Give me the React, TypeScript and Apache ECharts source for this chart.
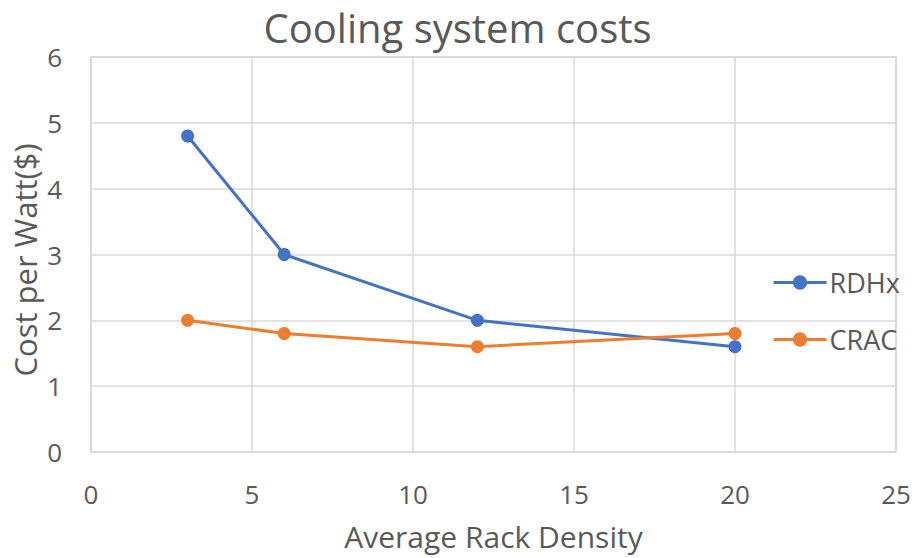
import React, { useEffect, useRef } from "react";
import * as echarts from "echarts";

const title = "Cooling system costs";
const xName = "Average Rack Density";
const yName = "Cost per Watt($)";
const rdhxName = "RDHx";
const cracName = "CRAC";
const rackDensity = [3, 6, 12, 20];
const rdhxCost = [4.8, 3.0, 2.0, 1.6];
const cracCost = [2.0, 1.8, 1.6, 1.8];

const FONT = "'Open Sans', sans-serif";
const TEXT = "#595959";
const GRID = "#D9D9D9";

export default function App() {
  const ref = useRef<HTMLDivElement>(null);
  useEffect(() => {
    if (!ref.current) return;
    document.body.style.margin = "0";
    const chart = echarts.init(ref.current, undefined, { renderer: "svg" });
    const pair = (ys: number[]) => rackDensity.map((x, i) => [x, ys[i]]);
    chart.setOption({
      animation: false,
      backgroundColor: "#ffffff",
      textStyle: { fontFamily: FONT, color: TEXT },
      title: {
        text: title,
        left: "center",
        top: 3,
        padding: 0,
        textStyle: { fontFamily: FONT, fontSize: 40, lineHeight: 48, fontWeight: "normal", color: TEXT },
      },
      grid: {
        left: 91,
        top: 57,
        width: 805,
        height: 395,
        outerBoundsMode: "none",
        containLabel: false,
        show: true,
        borderColor: GRID,
        borderWidth: 1.5,
      },
      legend: {
        orient: "vertical",
        left: 772,
        top: 269,
        padding: 0,
        itemWidth: 53,
        itemHeight: 18,
        itemGap: 30,
        lineStyle: { width: 3 },
        textStyle: { fontFamily: FONT, fontSize: 27, color: TEXT, padding: [0, 0, 0, -2] },
        data: [rdhxName, cracName],
      },
      xAxis: {
        type: "value",
        min: 0,
        max: 25,
        interval: 5,
        name: xName,
        nameLocation: "middle",
        nameGap: 69,
        nameTextStyle: { fontFamily: FONT, fontSize: 30, color: TEXT },
        axisLine: { show: true, lineStyle: { color: GRID, width: 1.5 } },
        axisTick: { show: false },
        splitLine: { show: true, lineStyle: { color: GRID, width: 1.5 } },
        axisLabel: { margin: 29, fontFamily: FONT, fontSize: 26, color: TEXT },
      },
      yAxis: {
        type: "value",
        min: 0,
        max: 6,
        interval: 1,
        axisLine: { show: true, lineStyle: { color: GRID, width: 1.5 } },
        axisTick: { show: false },
        splitLine: { show: true, lineStyle: { color: GRID, width: 1.5 } },
        axisLabel: { margin: 29, fontFamily: FONT, fontSize: 26, color: TEXT },
      },
      graphic: [
        {
          type: "text",
          x: 25,
          y: 260,
          rotation: Math.PI / 2,
          style: {
            text: yName,
            fontFamily: FONT,
            fontSize: 31,
            fill: TEXT,
            align: "center",
            verticalAlign: "middle",
          },
        },
      ],
      series: [
        {
          name: rdhxName,
          type: "line",
          data: pair(rdhxCost),
          symbol: "circle",
          symbolSize: 13,
          lineStyle: { color: "#4472C4", width: 3 },
          itemStyle: { color: "#4472C4" },
        },
        {
          name: cracName,
          type: "line",
          data: pair(cracCost),
          symbol: "circle",
          symbolSize: 13,
          lineStyle: { color: "#ED7D31", width: 3 },
          itemStyle: { color: "#ED7D31" },
        },
      ],
    });
    return () => chart.dispose();
  }, []);
  return <div ref={ref} style={{ width: 915, height: 558 }} />;
}
